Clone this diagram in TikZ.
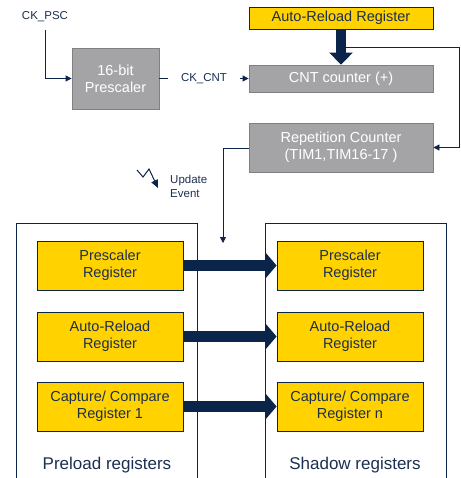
\documentclass[tikz,border=0pt]{standalone}
\usepackage{fontspec}
\setmainfont{Liberation Sans}
\usetikzlibrary{arrows.meta}
\definecolor{navy}{HTML}{0A2549}
\definecolor{txtnavy}{HTML}{1C2F4F}
\definecolor{regyellow}{HTML}{FFD200}
\definecolor{boxgray}{HTML}{A4A4A6}
\definecolor{graybd}{HTML}{808080}
\begin{document}
\begin{tikzpicture}[x=1pt,y=-1pt,
  ybox/.style={draw=navy,line width=0.8pt,fill=regyellow,text=txtnavy,inner sep=0pt,align=center,font=\fontsize{14.5}{17}\selectfont},
  gbox/.style={draw=graybd,line width=0.8pt,fill=boxgray,text=white,inner sep=0pt,align=center,font=\fontsize{14.5}{17}\selectfont},
  lbl/.style={text=txtnavy,inner sep=0pt,align=left,font=\fontsize{11.5}{14}\selectfont},
  biglbl/.style={text=txtnavy,inner sep=0pt,font=\fontsize{17}{20}\selectfont},
  thin/.style={draw=navy,line width=0.8pt},
  thinarrow/.style={thin,-{Triangle[length=6pt,width=6pt]}},
  fatarrow/.style={draw=navy,line width=11pt,-{Triangle[length=11pt,width=25pt]}},
  container/.style={draw=navy,line width=0.8pt}]
\useasboundingbox (0,0) rectangle (460,478);
% containers
\draw[container] (16,478) -- (16,223) -- (197,223) -- (197,478);
\draw[container] (265,478) -- (265,223) -- (446,223) -- (446,478);
% top blocks
\node[ybox,minimum width=184pt,minimum height=22pt] (arr) at (341,18) {Auto-Reload Register};
\node[gbox,minimum width=184pt,minimum height=27pt] (cnt) at (341,78.5) {CNT counter (+)};
\node[gbox,minimum width=184pt,minimum height=49pt] (rep) at (341,147.5) {Repetition Counter\\(TIM1,TIM16-17 )};
\node[gbox,minimum width=87pt,minimum height=61pt] (psc) at (115.5,78.5) {16-bit\\Prescaler};
% labels
\node[lbl] (ckpsc) at (45,17) {CK\_PSC};
\node[lbl] (ckcnt) at (204,79) {CK\_CNT};
\node[lbl,anchor=west] (upd) at (170,186) {Update\\Event};
% registers
\node[ybox,minimum width=146pt,minimum height=49pt] (pl1) at (110,265.5) {Prescaler\\Register};
\node[ybox,minimum width=146pt,minimum height=49pt] (pl2) at (110,336.5) {Auto-Reload\\Register};
\node[ybox,minimum width=146pt,minimum height=49pt] (pl3) at (110,406.5) {Capture/ Compare\\Register 1};
\node[ybox,minimum width=146pt,minimum height=49pt] (sh1) at (350,265.5) {Prescaler\\Register};
\node[ybox,minimum width=146pt,minimum height=49pt] (sh2) at (350,336.5) {Auto-Reload\\Register};
\node[ybox,minimum width=146pt,minimum height=49pt] (sh3) at (350,406.5) {Capture/ Compare\\Register n};
\node[biglbl] (prel) at (107,465) {Preload registers};
\node[biglbl] (shad) at (355,465) {Shadow registers};
% fat arrows
\draw[fatarrow] (pl1.east) -- (sh1.west);
\draw[fatarrow] (pl2.east) -- (sh2.west);
\draw[fatarrow] (pl3.east) -- (sh3.west);
\draw[draw=navy,line width=10pt,-{Triangle[length=12pt,width=23pt]}] (arr.south) -- (cnt.north);
% thin connectors
\coordinate (fb1) at (345,47);
\coordinate (fb2) at (459,47);
\coordinate (fb3) at (459,147.5);
\draw[thinarrow] (fb1) -- (fb2) -- (fb3) -- (rep.east);
\coordinate (ps1) at (45,30);
\coordinate (ps2) at (45,78.5);
\draw[thinarrow] (ps1) -- (ps2) -- (psc.west);
\coordinate (cc1) at (168,78.5);
\coordinate (cc2) at (240,78.5);
\draw[thin] (psc.east) -- (cc1);
\draw[thinarrow] (cc2) -- (cnt.west);
\coordinate (ue1) at (223,148);
\coordinate (ue2) at (223,243);
\draw[thinarrow] (rep.west |- ue1) -- (ue1) -- (ue2);
% update event zigzag
\coordinate (z1) at (137,170);
\coordinate (z2) at (143,177);
\coordinate (z3) at (149,169);
\coordinate (z4) at (158,188);
\draw[thin,line width=1pt,-{Triangle[length=8pt,width=7pt]}] (z1) -- (z2) -- (z3) -- (z4);
\end{tikzpicture}
\end{document}
